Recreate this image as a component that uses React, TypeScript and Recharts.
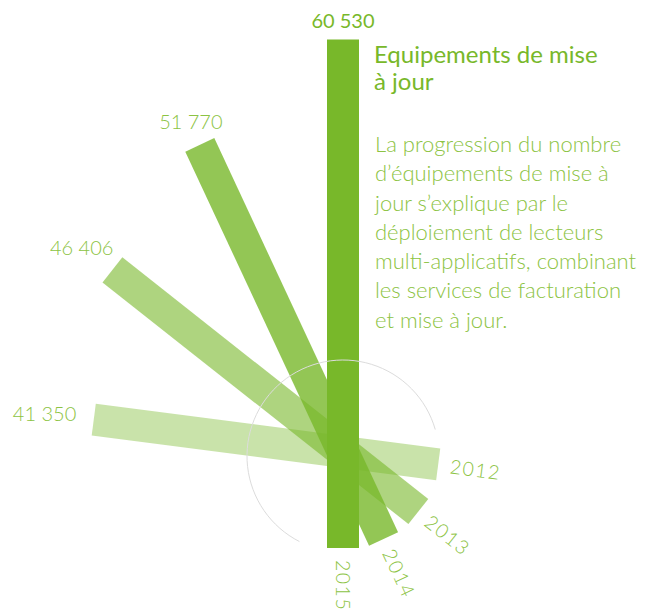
import { LineChart, Line, XAxis, YAxis, ReferenceDot } from 'recharts';

// values
const years = ['2012', '2013', '2014', '2015'];
const values = [41350, 46406, 51770, 60530];
const valueLabels = ['41 350', '46 406', '51 770', '60 530'];
// direction of each bar's top end, degrees counter-clockwise from 3 o'clock
const angles = [172.6, 141.7, 115, 90];
const opacities = [0.4, 0.6, 0.8, 1];

const W = 654;
const H = 611;
const PX = 0.0084; // pixels per unit
const CX = 343; // pivot on the page
const CY = 452;
const TAIL = 96 / PX; // part of every bar below the pivot
const GREEN = '#78b82a';
const LIGHT = '#8cc343';
const FONT = 'Lato, "Open Sans", sans-serif';

const xDomain = [-CX / PX, (W - CX) / PX];
const yDomain = [-(H - CY) / PX, CY / PX];

const series = years.map((year, i) => {
    const rad = (angles[i] * Math.PI) / 180;
    const c = Math.cos(rad);
    const s = Math.sin(rad);
    return {
        year,
        label: valueLabels[i],
        angle: angles[i],
        opacity: opacities[i],
        points: [
            { x: -TAIL * c, y: -TAIL * s },
            { x: (values[i] - TAIL) * c, y: (values[i] - TAIL) * s },
        ],
    };
});

function makeLabel(item: (typeof series)[number], last: boolean) {
    const rad = (item.angle * Math.PI) / 180;
    const ux = Math.cos(rad);
    const uy = -Math.sin(rad);
    return (props: any) => {
        const { x, y, index } = props;
        if (index === 0) {
            const px = x - ux * 12;
            const py = y - uy * 12;
            const rot = 180 - item.angle;
            return (
                <text
                    key={'y' + item.year}
                    x={px}
                    y={py}
                    transform={`rotate(${rot} ${px} ${py})`}
                    textAnchor="start"
                    dominantBaseline="central"
                    fill={LIGHT}
                    fontFamily={FONT}
                    fontWeight={300}
                    fontSize={19.5}
                    letterSpacing={1.5}
                >
                    {item.year}
                </text>
            );
        }
        // push the label out past the bar end so it clears its own box
        const t = 12 + Math.abs(ux) * ux * ux * 36 + Math.abs(uy) * 8 + (1 - Math.abs(ux)) * Math.abs(ux) * 20;
        const dx = Math.sign(ux) * ux * ux * 50;
        return (
            <text
                key={'v' + item.year}
                x={x + dx}
                y={y + uy * t}
                textAnchor="middle"
                dominantBaseline="central"
                fill={last ? GREEN : LIGHT}
                fontFamily={FONT}
                fontWeight={last ? 400 : 300}
                fontSize={20}
            >
                {item.label}
            </text>
        );
    };
}

function Arc(props: any) {
    const { cx } = props;
    const cy = props.cy + 4;
    const r = 96;
    const a0 = (16 * Math.PI) / 180;
    const a1 = (243 * Math.PI) / 180;
    const x0 = cx + r * Math.cos(a0);
    const y0 = cy - r * Math.sin(a0);
    const x1 = cx + r * Math.cos(a1);
    const y1 = cy - r * Math.sin(a1);
    return (
        <path
            d={`M${x0},${y0} A${r},${r} 0 1 0 ${x1},${y1}`}
            fill="none"
            stroke="#dcdcdc"
            strokeWidth={1}
        />
    );
}

export default function App() {
    return (
        <div style={{ position: 'absolute', left: 0, top: 0, width: W, height: H, background: '#fff' }}>
            <LineChart width={W} height={H} margin={{ top: 0, right: 0, bottom: 0, left: 0 }}>
                <XAxis type="number" dataKey="x" domain={xDomain} hide allowDataOverflow />
                <YAxis type="number" dataKey="y" domain={yDomain} hide allowDataOverflow />
                <ReferenceDot x={0} y={0} r={96} shape={Arc} ifOverflow="visible" />
                {series.map((item, i) => (
                    <Line
                        key={item.year}
                        data={item.points}
                        dataKey="y"
                        type="linear"
                        stroke={GREEN}
                        strokeOpacity={item.opacity}
                        strokeWidth={32}
                        strokeLinecap="butt"
                        dot={false}
                        activeDot={false}
                        label={makeLabel(item, i === series.length - 1)}
                        isAnimationActive={false}
                    />
                ))}
            </LineChart>
            <div
                style={{
                    position: 'absolute',
                    left: 374,
                    top: 40,
                    fontFamily: FONT,
                    fontSize: 24,
                    lineHeight: '27px',
                    color: GREEN,
                    fontWeight: 400,
                }}
            >
                Equipements de mise
                <br />à jour
            </div>
            <div
                style={{
                    position: 'absolute',
                    left: 375,
                    top: 129,
                    fontFamily: FONT,
                    fontSize: 22,
                    lineHeight: '29.3px',
                    color: LIGHT,
                    fontWeight: 300,
                    whiteSpace: 'nowrap',
                }}
            >
                La progression du nombre
                <br />d’équipements de mise à
                <br />jour s’explique par le
                <br />déploiement de lecteurs
                <br />multi-applicatifs, combinant
                <br />les services de facturation
                <br />et mise à jour.
            </div>
        </div>
    );
}
